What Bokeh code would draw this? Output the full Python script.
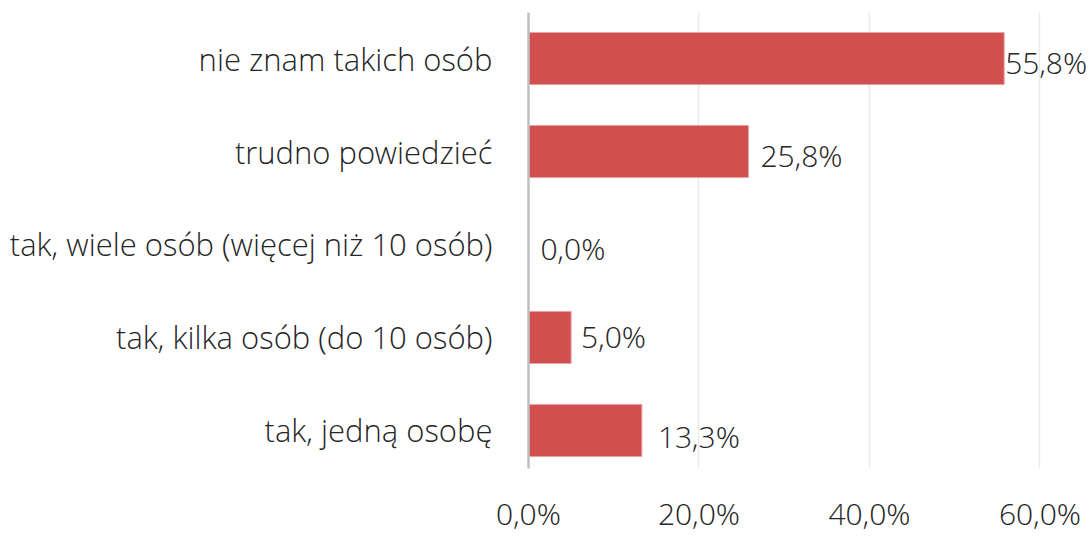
from bokeh.plotting import figure
from bokeh.models import ColumnDataSource, FixedTicker, CustomJSTickFormatter, LabelSet, Range1d
from bokeh.core.properties import value
from bokeh.embed import file_html
from bokeh.resources import INLINE

categories = [
    "tak, jedną osobę",
    "tak, kilka osób (do 10 osób)",
    "tak, wiele osób (więcej niż 10 osób)",
    "trudno powiedzieć",
    "nie znam takich osób",
]
values = [13.3, 5.0, 0.0, 25.8, 55.8]
value_labels = ["13,3%", "5,0%", "0,0%", "25,8%", "55,8%"]
x_ticks = [0, 20, 40, 60]

positions = list(range(len(categories)))

# styling: per-label pixel offsets (as placed in the original)
label_dx = [16, 10, 12, 12, 1]
label_dy = [-6, 1, -4, -4, -4]

FONT = "'Open Sans Light', 'Open Sans'"
TXT = "#262626"

src = ColumnDataSource(dict(pos=positions, cat=categories, val=values, lab=value_labels,
                            dx=label_dx, dy=label_dy))

p = figure(
    y_range=Range1d(-0.409, 4.495),
    x_range=Range1d(0, 66.16),
    width=1092, height=536,
    output_backend="svg", toolbar_location=None,
    min_border_left=528, min_border_right=0, min_border_top=12, min_border_bottom=59,
)
p.outline_line_color = None
p.background_fill_color = "white"

p.hbar(y="pos", right="val", left=0, height=0.56, source=src,
       fill_color="#D24F50", line_color="#E7A3A3", line_width=1)

labels = LabelSet(x="val", y="pos", text="lab", source=src,
                  x_offset="dx", y_offset="dy",
                  text_font=value(FONT), text_font_size="30px", text_color=TXT,
                  text_baseline="middle", text_align="left")
p.add_layout(labels)

p.xaxis.ticker = FixedTicker(ticks=x_ticks)
p.xaxis.formatter = CustomJSTickFormatter(code="return tick.toFixed(1).replace('.', ',') + '%';")
p.xaxis.axis_line_color = None
p.xaxis.major_tick_line_color = None
p.xaxis.minor_tick_line_color = None
p.xaxis.major_label_standoff = 18
p.xaxis.major_label_text_font = FONT
p.xaxis.major_label_text_font_size = "30px"
p.xaxis.major_label_text_color = TXT

p.yaxis.ticker = FixedTicker(ticks=positions)
p.yaxis.formatter = CustomJSTickFormatter(args=dict(cats=categories),
                                          code="return cats[Math.round(tick)];")
p.yaxis.axis_line_color = "#BFBFBF"
p.yaxis.axis_line_width = 2.5
p.yaxis.major_tick_line_color = None
p.yaxis.minor_tick_line_color = None
p.yaxis.major_label_standoff = 30
p.yaxis.major_label_text_font = FONT
p.yaxis.major_label_text_font_size = "31px"
p.yaxis.major_label_text_color = TXT

p.xgrid.ticker = FixedTicker(ticks=x_ticks)
p.xgrid.grid_line_color = "#EBEBEB"
p.xgrid.grid_line_width = 1.5
p.ygrid.grid_line_color = None

open("out.html", "w").write(file_html(p, INLINE))
